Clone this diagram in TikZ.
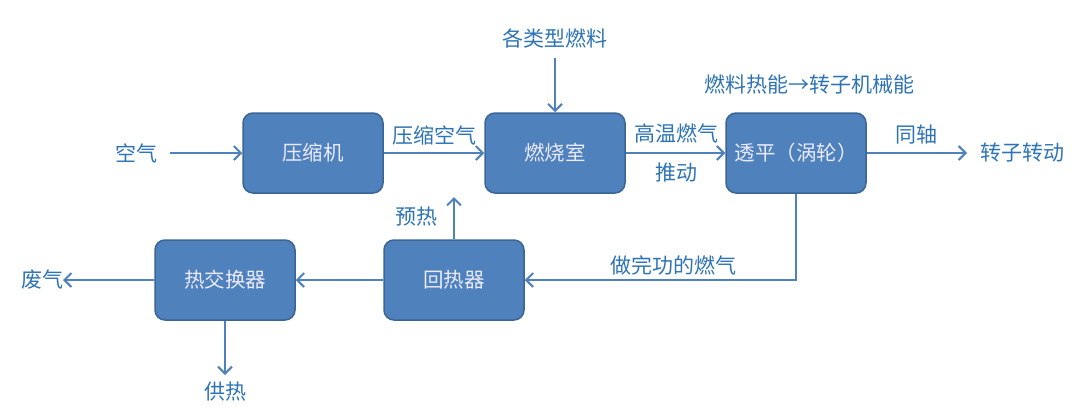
\documentclass[tikz,border=0pt]{standalone}
\usepackage{fontspec}
\setmainfont{Noto Sans CJK SC}
\usetikzlibrary{arrows.meta}
\definecolor{boxfill}{HTML}{4F81BD}
\definecolor{boxedge}{HTML}{3A6595}
\definecolor{linecol}{HTML}{4F81BD}
\definecolor{labcol}{HTML}{2E74B5}
\tikzset{
  proc/.style={draw=boxedge, line width=1.5pt, fill=boxfill, rounded corners=10pt,
    minimum width=140pt, minimum height=80pt, inner sep=0pt, text=white!92!blue,
    font=\fontsize{20.5}{24}\selectfont},
  lab/.style={text=labcol, inner sep=0pt, font=\fontsize{21}{25}\selectfont},
  flow/.style={draw=linecol, line width=2pt, -{Straight Barb[length=7pt,width=14pt,line width=2pt]}},
}
\begin{document}
\begin{tikzpicture}[x=1pt,y=-1pt]
\useasboundingbox (0,0) rectangle (1080,413);
\node[proc] (comp) at (313,153) {压缩机};
\node[proc] (comb) at (555,153) {燃烧室};
\node[proc] (turb) at (796,153) {透平（涡轮）};
\node[proc] (rec) at (454,280) {回热器};
\node[proc] (hex) at (225,280) {热交换器};

\node[lab] (air) at (136,153) {空气};
\node[lab] (fuel) at (555,38) {各类型燃料};
\node[lab] (conv) at (809,85) {燃料热能→转子机械能};
\node[lab] (rot) at (1022,153) {转子转动};
\node[lab] (waste) at (42,280) {废气};
\node[lab] (heat) at (225,392) {供热};

\node[lab] at (434,135) {压缩空气};
\node[lab] at (676,133) {高温燃气};
\node[lab] at (676,173) {推动};
\node[lab] at (916,135) {同轴};
\node[lab] at (416,217) {预热};
\node[lab] at (673,265) {做完功的燃气};

\coordinate (airend) at (170,153);
\coordinate (fuelend) at (555,58);
\coordinate (rotend) at (967,153);
\coordinate (pre) at (454,197);
\coordinate (corner) at (796,280);
\coordinate (wasteend) at (63,280);
\coordinate (heatend) at (225,375);

\draw[flow] (airend) -- (comp.west);
\draw[flow] (comp.east) -- (comb.west);
\draw[flow] (fuelend) -- (comb.north);
\draw[flow] (comb.east) -- (turb.west);
\draw[flow] (turb.east) -- (rotend);
\draw[flow] (turb.south) -- (corner) -- (rec.east);
\draw[flow] (rec.north) -- (pre);
\draw[flow] (rec.west) -- (hex.east);
\draw[flow] (hex.west) -- (wasteend);
\draw[flow] (hex.south) -- (heatend);
\end{tikzpicture}
\end{document}
